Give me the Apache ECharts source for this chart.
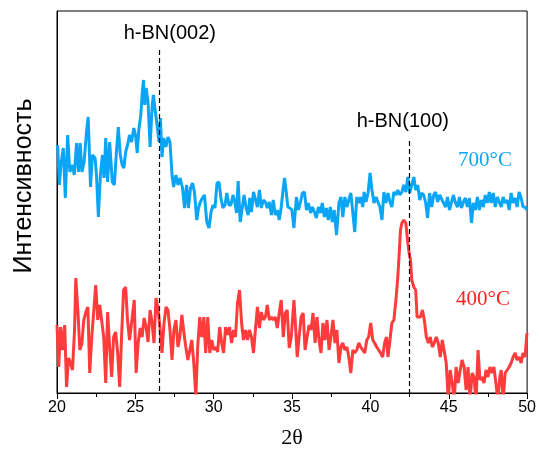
<!DOCTYPE html>
<html><head><meta charset="utf-8">
<script src="https://cdn.jsdelivr.net/npm/echarts@6/dist/echarts.min.js"></script>
<style>html,body{margin:0;padding:0;background:#fff}#c{width:539px;height:457px}</style>
</head><body><div id="c"></div>
<script>
var xTicks = [20, 25, 30, 35, 40, 45, 50];
var peakNames = ['h-BN(002)', 'h-BN(100)'];
var peakPos = [26.5, 42.45];
var peakTop = [344, 253];
var seriesNames = ['700°C', '400°C'];
var yName = 'Интенсивность';
var xName = '2θ';

var blueX = [20.04,20.15,20.25,20.40,20.53,20.68,20.82,20.99,21.10,21.25,21.37,21.48,21.59,21.73,21.88,21.99,22.14,22.26,22.43,22.52,22.64,22.77,22.90,23.00,23.11,23.23,23.36,23.53,23.66,23.78,23.91,24.04,24.16,24.27,24.38,24.50,24.63,24.76,24.90,25.01,25.12,25.22,25.35,25.43,25.52,25.60,25.69,25.81,25.94,26.07,26.15,26.28,26.41,26.51,26.60,26.70,26.81,26.95,27.08,27.21,27.34,27.44,27.59,27.72,27.86,28.01,28.14,28.27,28.39,28.52,28.65,28.77,28.92,29.03,29.15,29.28,29.41,29.56,29.70,29.83,29.96,30.08,30.21,30.34,30.46,30.59,30.72,30.84,30.97,31.10,31.23,31.35,31.46,31.56,31.69,31.82,31.94,32.07,32.20,32.30,32.41,32.54,32.66,32.79,32.92,33.04,33.17,33.30,33.42,33.55,33.68,33.80,33.93,34.06,34.18,34.31,34.44,34.52,34.63,34.73,34.86,34.99,35.12,
35.28,35.41,35.54,35.66,35.79,35.92,36.04,36.19,36.30,36.43,36.55,36.68,36.81,36.93,37.06,37.19,37.31,37.44,37.57,37.69,37.84,37.99,38.12,38.24,38.37,38.50,38.62,38.75,38.88,39.00,39.13,39.26,39.38,39.51,39.60,39.72,39.85,39.98,40.10,40.23,40.36,40.48,40.61,40.74,40.86,40.99,41.12,41.25,41.37,41.50,41.63,41.75,41.88,42.01,42.13,42.26,42.39,42.51,42.64,42.77,42.89,43.02,43.15,43.27,43.40,43.53,43.65,43.78,43.91,44.04,44.16,44.29,44.42,44.54,44.67,44.80,44.92,45.05,45.18,45.30,45.43,45.56,45.68,45.81,45.94,46.06,46.19,46.32,46.45,46.57,46.70,46.83,46.95,47.08,47.21,47.33,47.46,47.59,47.71,47.84,47.97,48.10,48.22,48.35,48.47,48.60,48.73,48.86,48.98,49.11,49.24,49.36,49.49,49.62,49.74,49.87,49.99];
var blueY = [249,209,229,246,196,259,222,229,219,251,222,251,222,232,262,277,207,239,236,219,177,219,239,216,256,212,252,212,209,239,267,239,229,226,242,249,259,252,266,259,241,264,279,299,314,289,306,292,247,287,299,282,266,252,276,237,256,247,257,252,219,207,219,209,216,206,186,209,186,206,211,202,174,186,192,196,199,172,166,182,189,186,211,212,196,186,189,201,189,189,199,192,181,213,172,186,199,186,179,196,182,202,204,187,204,186,194,192,186,192,179,194,179,184,174,187,206,216,202,187,186,184,166,
197,184,192,201,202,184,191,181,187,182,176,187,181,191,177,186,174,187,172,184,159,191,197,177,197,187,194,201,181,162,197,191,197,187,202,192,201,221,204,191,197,192,187,174,202,191,201,192,187,202,199,204,199,202,209,202,217,201,209,217,204,209,194,201,199,191,176,201,187,199,202,192,199,197,191,187,197,184,192,199,191,187,197,186,192,196,187,196,171,191,184,197,184,194,187,199,191,202,191,201,187,197,196,187,197,191,194,184,201,191,196,187,202,196,187,187,184];

var redX = [20.00,20.11,20.23,20.36,20.49,20.61,20.74,20.87,20.99,21.12,21.20,21.33,21.46,21.59,21.71,21.84,21.97,22.09,22.22,22.35,22.47,22.60,22.73,22.85,22.98,23.11,23.23,23.36,23.49,23.61,23.74,23.87,24.00,24.12,24.25,24.38,24.50,24.63,24.76,24.93,25.05,25.18,25.31,25.43,25.56,25.69,25.81,25.94,26.07,26.19,26.32,26.45,26.57,26.70,26.83,26.96,27.08,27.21,27.34,27.46,27.59,27.72,27.84,27.97,28.10,28.22,28.35,28.48,28.60,28.73,28.86,28.98,29.11,29.24,29.37,29.49,29.62,29.75,29.87,30.00,30.13,30.25,30.38,30.51,30.63,30.76,30.89,31.01,31.14,31.27,31.39,31.52,31.65,31.78,31.90,32.03,32.16,32.28,32.41,32.54,32.66,32.79,32.92,33.04,33.17,33.30,33.42,33.55,33.68,33.80,33.93,34.06,34.18,34.31,34.44,34.57,34.69,34.82,34.95,35.12,
35.20,35.33,35.45,35.58,35.71,35.83,35.96,36.09,36.21,36.34,36.47,36.59,36.72,36.85,36.97,37.10,37.23,37.36,37.48,37.61,37.74,37.86,37.99,38.12,38.24,38.37,38.50,38.62,38.75,38.88,39.00,39.13,39.26,39.38,39.51,39.64,39.77,39.89,40.02,40.15,40.27,40.40,40.53,40.65,40.78,40.91,41.03,41.12,41.25,41.37,41.50,41.63,41.75,41.84,41.92,42.01,42.13,42.26,42.39,42.47,42.56,42.64,42.77,42.89,42.98,43.06,43.19,43.32,43.44,43.57,43.70,43.82,43.95,44.08,44.20,44.33,44.46,44.59,44.71,44.84,44.97,45.09,45.22,45.35,45.47,45.60,45.73,45.85,45.98,46.11,46.23,46.36,46.49,46.61,46.74,46.87,46.99,47.12,47.25,47.38,47.50,47.63,47.76,47.88,48.01,48.14,48.26,48.35,48.47,48.60,48.73,48.86,48.98,49.11,49.24,49.36,49.49,49.62,49.74,49.87,49.99];
var redY = [69,27,67,44,69,7,36,31,24,64,116,84,44,51,74,82,87,21,57,84,109,74,89,87,57,11,82,47,17,57,62,41,7,57,104,107,74,54,71,94,21,51,66,57,76,67,52,84,71,51,96,84,67,41,71,87,84,64,34,64,74,47,57,79,61,47,34,44,54,31,-3,47,77,57,77,41,77,41,54,44,47,42,67,51,41,67,59,67,51,64,57,91,104,71,54,64,54,64,57,41,64,87,66,82,74,77,89,74,77,74,77,66,81,94,57,81,84,46,57,94,
74,37,57,77,81,44,57,69,64,81,51,77,54,41,71,54,74,44,57,74,51,64,31,47,51,44,47,37,21,44,41,44,51,47,44,41,54,57,71,54,51,47,44,41,37,51,57,37,54,71,74,94,117,141,164,171,174,171,151,141,134,114,107,104,77,77,77,84,74,57,51,57,47,51,57,51,37,54,54,31,-6,24,11,-6,27,11,24,34,27,4,27,-6,21,17,-6,44,14,17,11,24,17,27,21,27,11,-6,17,24,-6,21,24,27,31,37,41,34,37,31,41,37,61];

function pairs(xs, ys) { return xs.map(function (x, i) { return [x, ys[i]]; }); }

var chart = echarts.init(document.getElementById('c'), null, {renderer: 'canvas'});
chart.setOption({
  animation: false,
  backgroundColor: '#fff',
  grid: {left: 57, right: 8, top: 11, bottom: 64, show: true, borderColor: '#000', borderWidth: 1, backgroundColor: 'transparent'},
  xAxis: {
    type: 'value', min: 20, max: 50, interval: 5,
    name: xName, nameLocation: 'middle', nameGap: 34,
    nameTextStyle: {fontFamily: 'Liberation Serif', fontSize: 22, color: '#000'},
    axisLine: {lineStyle: {color: '#000', width: 1}},
    axisTick: {show: true, inside: false, length: 6, lineStyle: {color: '#000'}},
    minorTick: {show: true, splitNumber: 2, length: 4, lineStyle: {color: '#000'}},
    axisLabel: {fontFamily: 'Liberation Sans', fontSize: 16, color: '#000', margin: 7,
      formatter: function (v) { return xTicks.indexOf(v) >= 0 ? String(v) : ''; }},
    splitLine: {show: false}
  },
  yAxis: {
    type: 'value', min: 1, max: 383,
    axisLine: {show: true, lineStyle: {color: '#000', width: 1}},
    axisTick: {show: false}, axisLabel: {show: false}, splitLine: {show: false}
  },
  series: [
    {
      name: seriesNames[0], type: 'line', data: pairs(blueX, blueY), showSymbol: false, clip: true,
      lineStyle: {color: '#0AA6F5', width: 3}, itemStyle: {color: '#0AA6F5'}, z: 3,
      markLine: {
        silent: true, symbol: 'none',
        lineStyle: {color: '#000', type: [5, 3], width: 1.2},
        label: {show: false},
        data: [
          [{coord: [peakPos[0], peakTop[0]]}, {coord: [peakPos[0], 1]}],
          [{coord: [peakPos[1], peakTop[1]]}, {coord: [peakPos[1], 1]}]
        ]
      }
    },
    {
      name: seriesNames[1], type: 'line', data: pairs(redX, redY), showSymbol: false, clip: true,
      lineStyle: {color: '#FF3B3B', width: 3}, itemStyle: {color: '#FF3B3B'}, z: 2
    }
  ]
});

var p0 = chart.convertToPixel({gridIndex: 0}, [peakPos[0], peakTop[0]]);
var p1 = chart.convertToPixel({gridIndex: 0}, [peakPos[1], peakTop[1]]);
chart.setOption({
  graphic: [
    {type: 'text', x: p0[0] + 11, y: p0[1] - 17, style: {text: peakNames[0], fill: '#000', font: '20px "Liberation Sans"', textAlign: 'center', textVerticalAlign: 'middle'}},
    {type: 'text', x: p1[0] - 6, y: p1[1] - 20, style: {text: peakNames[1], fill: '#000', font: '20px "Liberation Sans"', textAlign: 'center', textVerticalAlign: 'middle'}},
    {type: 'text', x: 485, y: 160, style: {text: seriesNames[0], fill: '#0AA6F5', font: '21px "Liberation Serif"', textAlign: 'center', textVerticalAlign: 'middle'}},
    {type: 'text', x: 483, y: 299, style: {text: seriesNames[1], fill: '#FF2020', font: '21px "Liberation Serif"', textAlign: 'center', textVerticalAlign: 'middle'}},
    {type: 'text', x: 24, y: 186, rotation: Math.PI / 2, style: {text: yName, fill: '#000', font: '25px "Liberation Sans"', textAlign: 'center', textVerticalAlign: 'middle'}}
  ]
});
</script></body></html>
